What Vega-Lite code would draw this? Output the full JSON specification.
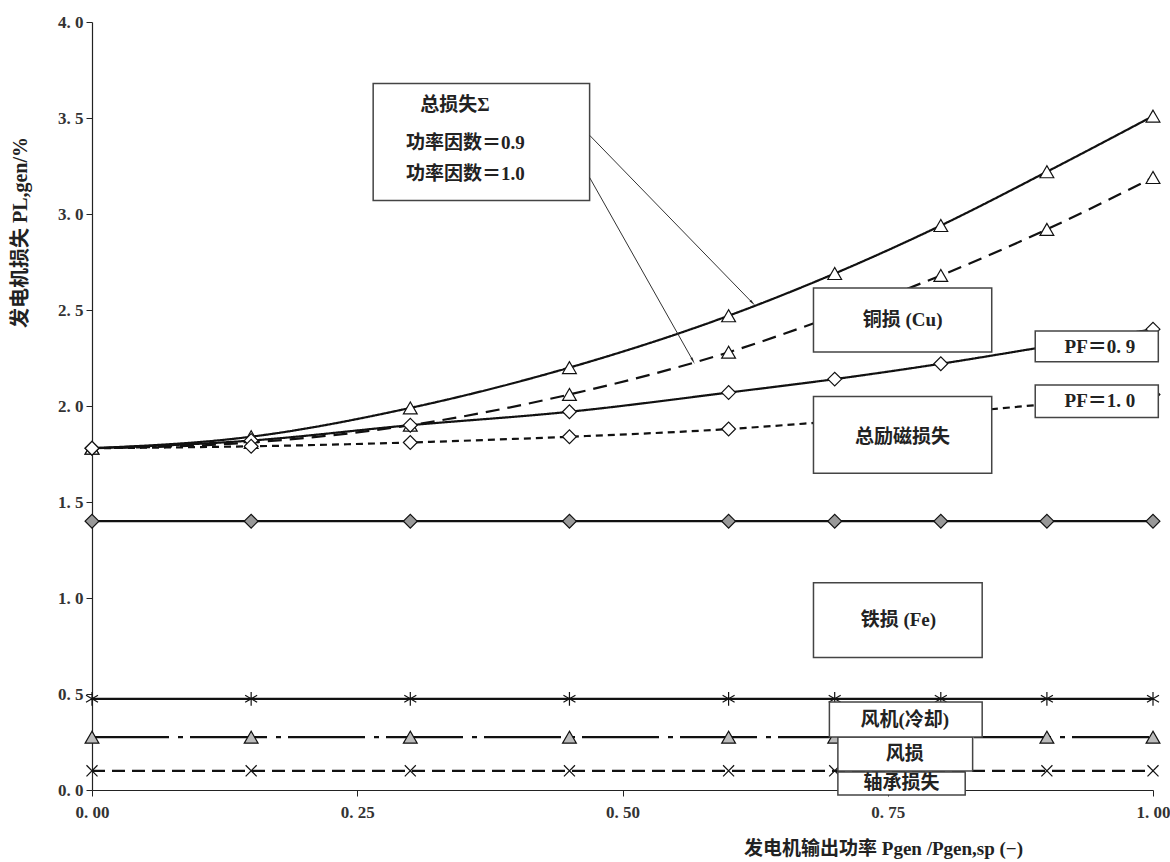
{
  "$schema": "https://vega.github.io/schema/vega-lite/v6.json",
  "width": 1061,
  "height": 768,
  "autosize": {"type": "none"},
  "padding": {"left": 92, "top": 22, "right": 17, "bottom": 72},
  "background": "white",
  "config": {"view": {"stroke": null}},
  "datasets": {
    "curves": [
      {"series": "total09", "x": 0, "y": 1.78}, {"series": "total09", "x": 0.15, "y": 1.84}, {"series": "total09", "x": 0.3, "y": 1.99}, {"series": "total09", "x": 0.45, "y": 2.2}, {"series": "total09", "x": 0.6, "y": 2.47}, {"series": "total09", "x": 0.7, "y": 2.69}, {"series": "total09", "x": 0.8, "y": 2.94}, {"series": "total09", "x": 0.9, "y": 3.22}, {"series": "total09", "x": 1.0, "y": 3.51},
      {"series": "total10", "x": 0, "y": 1.78}, {"series": "total10", "x": 0.15, "y": 1.81}, {"series": "total10", "x": 0.3, "y": 1.9}, {"series": "total10", "x": 0.45, "y": 2.06}, {"series": "total10", "x": 0.6, "y": 2.28}, {"series": "total10", "x": 0.7, "y": 2.47}, {"series": "total10", "x": 0.8, "y": 2.68}, {"series": "total10", "x": 0.9, "y": 2.92}, {"series": "total10", "x": 1.0, "y": 3.19},
      {"series": "exc09", "x": 0, "y": 1.78}, {"series": "exc09", "x": 0.15, "y": 1.82}, {"series": "exc09", "x": 0.3, "y": 1.9}, {"series": "exc09", "x": 0.45, "y": 1.97}, {"series": "exc09", "x": 0.6, "y": 2.07}, {"series": "exc09", "x": 0.7, "y": 2.14}, {"series": "exc09", "x": 0.8, "y": 2.22}, {"series": "exc09", "x": 0.9, "y": 2.31}, {"series": "exc09", "x": 1.0, "y": 2.4},
      {"series": "exc10", "x": 0, "y": 1.78}, {"series": "exc10", "x": 0.15, "y": 1.79}, {"series": "exc10", "x": 0.3, "y": 1.81}, {"series": "exc10", "x": 0.45, "y": 1.84}, {"series": "exc10", "x": 0.6, "y": 1.88}, {"series": "exc10", "x": 0.7, "y": 1.92}, {"series": "exc10", "x": 0.8, "y": 1.96}, {"series": "exc10", "x": 0.9, "y": 2.01}, {"series": "exc10", "x": 1.0, "y": 2.06},
      {"series": "fe", "x": 0, "y": 1.4}, {"series": "fe", "x": 0.15, "y": 1.4}, {"series": "fe", "x": 0.3, "y": 1.4}, {"series": "fe", "x": 0.45, "y": 1.4}, {"series": "fe", "x": 0.6, "y": 1.4}, {"series": "fe", "x": 0.7, "y": 1.4}, {"series": "fe", "x": 0.8, "y": 1.4}, {"series": "fe", "x": 0.9, "y": 1.4}, {"series": "fe", "x": 1.0, "y": 1.4},
      {"series": "fan", "x": 0, "y": 0.475}, {"series": "fan", "x": 0.15, "y": 0.475}, {"series": "fan", "x": 0.3, "y": 0.475}, {"series": "fan", "x": 0.45, "y": 0.475}, {"series": "fan", "x": 0.6, "y": 0.475}, {"series": "fan", "x": 0.7, "y": 0.475}, {"series": "fan", "x": 0.8, "y": 0.475}, {"series": "fan", "x": 0.9, "y": 0.475}, {"series": "fan", "x": 1.0, "y": 0.475},
      {"series": "wind", "x": 0, "y": 0.275}, {"series": "wind", "x": 0.15, "y": 0.275}, {"series": "wind", "x": 0.3, "y": 0.275}, {"series": "wind", "x": 0.45, "y": 0.275}, {"series": "wind", "x": 0.6, "y": 0.275}, {"series": "wind", "x": 0.7, "y": 0.275}, {"series": "wind", "x": 0.8, "y": 0.275}, {"series": "wind", "x": 0.9, "y": 0.275}, {"series": "wind", "x": 1.0, "y": 0.275},
      {"series": "bearing", "x": 0, "y": 0.1}, {"series": "bearing", "x": 0.15, "y": 0.1}, {"series": "bearing", "x": 0.3, "y": 0.1}, {"series": "bearing", "x": 0.45, "y": 0.1}, {"series": "bearing", "x": 0.6, "y": 0.1}, {"series": "bearing", "x": 0.7, "y": 0.1}, {"series": "bearing", "x": 0.8, "y": 0.1}, {"series": "bearing", "x": 0.9, "y": 0.1}, {"series": "bearing", "x": 1.0, "y": 0.1}
    ],
    "boxes": [
      {"name": "total", "x1": 0.265, "x2": 0.469, "y1": 3.68, "y2": 3.07},
      {"name": "cu", "x1": 0.68, "x2": 0.848, "y1": 2.615, "y2": 2.281},
      {"name": "pf09", "x1": 0.889, "x2": 1.005, "y1": 2.39, "y2": 2.23},
      {"name": "pf10", "x1": 0.889, "x2": 1.005, "y1": 2.11, "y2": 1.94},
      {"name": "exc", "x1": 0.68, "x2": 0.848, "y1": 2.05, "y2": 1.65},
      {"name": "fe", "x1": 0.68, "x2": 0.839, "y1": 1.08, "y2": 0.69},
      {"name": "bearing", "x1": 0.703, "x2": 0.823, "y1": 0.094, "y2": -0.026},
      {"name": "wind", "x1": 0.703, "x2": 0.83, "y1": 0.276, "y2": 0.099},
      {"name": "fan", "x1": 0.695, "x2": 0.839, "y1": 0.458, "y2": 0.276}
    ],
    "labels": [
      {"x": 0.342, "y": 3.57, "text": "总损失Σ"},
      {"x": 0.352, "y": 3.37, "text": "功率因数＝0.9"},
      {"x": 0.352, "y": 3.21, "text": "功率因数＝1.0"},
      {"x": 0.764, "y": 2.45, "text": "铜损 (Cu)"},
      {"x": 0.764, "y": 1.84, "text": "总励磁损失"},
      {"x": 0.76, "y": 0.885, "text": "铁损 (Fe)"},
      {"x": 0.766, "y": 0.365, "text": "风机(冷却)"},
      {"x": 0.766, "y": 0.187, "text": "风损"},
      {"x": 0.763, "y": 0.036, "text": "轴承损失"},
      {"x": 0.95, "y": 2.305, "text": "PF＝0. 9"},
      {"x": 0.95, "y": 2.025, "text": "PF＝1. 0"}
    ],
    "arrows": [
      {"name": "a1", "x": 0.469, "y": 3.41, "x2": 0.622, "y2": 2.54},
      {"name": "a2", "x": 0.469, "y": 3.19, "x2": 0.566, "y2": 2.24}
    ]
  },
  "layer": [
    {
      "data": {"name": "curves"},
      "mark": {"type": "line", "interpolate": "monotone", "color": "#111", "clip": false},
      "encoding": {
        "x": {
          "field": "x", "type": "quantitative",
          "scale": {"domain": [0, 1], "nice": false, "zero": false},
          "axis": {
            "values": [0, 0.25, 0.5, 0.75, 1],
            "labelExpr": "replace(format(datum.value, '.2f'), '.', '. ')",
            "title": "发电机输出功率 Pgen /Pgen,sp (−)",
            "grid": false, "domainColor": "#222", "domainWidth": 1.2, "tickColor": "#222", "tickSize": 6,
            "labelFont": "Liberation Serif", "labelFontSize": 17, "labelFontWeight": "bold", "labelColor": "#333", "labelPadding": 8, "labelDx": -4,
            "labelFlush": false, "labelOverlap": false,
            "titleFont": "'Liberation Serif', 'Noto Sans CJK SC'", "titleFontSize": 19, "titleFontWeight": "bold", "titleColor": "#222",
            "titleX": 791, "titleY": 58, "titleAlign": "center", "titleBaseline": "middle"
          }
        },
        "y": {
          "field": "y", "type": "quantitative",
          "scale": {"domain": [0, 4], "nice": false},
          "axis": {
            "values": [0, 0.5, 1, 1.5, 2, 2.5, 3, 3.5, 4],
            "labelExpr": "replace(format(datum.value, '.1f'), '.', '. ')",
            "title": "发电机损失 PL,gen/%",
            "grid": false, "domainColor": "#222", "domainWidth": 1.2, "tickColor": "#222", "tickSize": 6,
            "labelFont": "Liberation Serif", "labelFontSize": 17, "labelFontWeight": "bold", "labelColor": "#333", "labelPadding": 3,
            "labelFlush": false, "labelOverlap": false,
            "titleFont": "'Liberation Serif', 'Noto Sans CJK SC'", "titleFontSize": 20, "titleFontWeight": "bold", "titleColor": "#222",
            "titleX": -72, "titleY": 210, "titleAlign": "center", "titleBaseline": "middle", "titleAngle": -90
          }
        },
        "detail": {"field": "series"},
        "strokeDash": {
          "field": "series", "type": "nominal", "legend": null,
          "scale": {
            "domain": ["total09", "total10", "exc09", "exc10", "fe", "fan", "wind", "bearing"],
            "range": [[1, 0], [14, 8], [1, 0], [7, 5], [1, 0], [1, 0], [77, 9, 5, 7], [13, 7]]
          }
        },
        "strokeWidth": {
          "field": "series", "type": "nominal", "legend": null,
          "scale": {
            "domain": ["total09", "total10", "exc09", "exc10", "fe", "fan", "wind", "bearing"],
            "range": [2.2, 2.2, 2.2, 2.2, 1.8, 2.6, 2.2, 2]
          }
        }
      }
    },
    {
      "data": {"name": "curves"},
      "mark": {"type": "point", "filled": true, "stroke": "#111", "strokeWidth": 1.2, "opacity": 1, "clip": false},
      "encoding": {
        "x": {"field": "x", "type": "quantitative"},
        "y": {"field": "y", "type": "quantitative"},
        "shape": {
          "field": "series", "type": "nominal", "legend": null,
          "scale": {
            "domain": ["total09", "total10", "exc09", "exc10", "fe", "fan", "wind", "bearing"],
            "range": ["triangle-up", "triangle-up", "diamond", "diamond", "diamond", "M0,-1L0,1M-0.87,-0.5L0.87,0.5M-0.87,0.5L0.87,-0.5", "triangle-up", "M-0.8,-0.8L0.8,0.8M-0.8,0.8L0.8,-0.8"]
          }
        },
        "fill": {
          "field": "series", "type": "nominal", "legend": null,
          "scale": {
            "domain": ["total09", "total10", "exc09", "exc10", "fe", "fan", "wind", "bearing"],
            "range": ["white", "white", "white", "white", "#999999", "transparent", "#bbbbbb", "transparent"]
          }
        },
        "size": {
          "field": "series", "type": "nominal", "legend": null,
          "scale": {
            "domain": ["total09", "total10", "exc09", "exc10", "fe", "fan", "wind", "bearing"],
            "range": [190, 190, 160, 160, 32, 45, 45, 40]
          }
        }
      }
    },
    {
      "data": {"name": "boxes"},
      "mark": {"type": "rect", "fill": "white", "stroke": "#444", "strokeWidth": 1.5, "clip": false},
      "encoding": {
        "x": {"field": "x1", "type": "quantitative"},
        "x2": {"field": "x2"},
        "y": {"field": "y1", "type": "quantitative"},
        "y2": {"field": "y2"}
      }
    },
    {
      "data": {"name": "labels"},
      "mark": {"type": "text", "font": "'Liberation Serif', 'Noto Sans CJK SC'", "fontSize": 19, "fontWeight": "bold", "color": "#222", "align": "center", "baseline": "middle"},
      "encoding": {
        "x": {"field": "x", "type": "quantitative"},
        "y": {"field": "y", "type": "quantitative"},
        "text": {"field": "text"}
      }
    },
    {
      "data": {"name": "arrows"},
      "mark": {"type": "rule", "color": "#333", "strokeWidth": 1},
      "encoding": {
        "x": {"field": "x", "type": "quantitative"},
        "y": {"field": "y", "type": "quantitative"},
        "x2": {"field": "x2"},
        "y2": {"field": "y2"}
      }
    },
    {
      "data": {"name": "arrows"},
      "transform": [{"filter": "datum.name == 'a1'"}],
      "mark": {"type": "point", "shape": "wedge", "filled": true, "color": "#222", "size": 70, "angle": 136, "opacity": 1},
      "encoding": {
        "x": {"field": "x2", "type": "quantitative"},
        "y": {"field": "y2", "type": "quantitative"}
      }
    },
    {
      "data": {"name": "arrows"},
      "transform": [{"filter": "datum.name == 'a2'"}],
      "mark": {"type": "point", "shape": "wedge", "filled": true, "color": "#222", "size": 70, "angle": 151, "opacity": 1},
      "encoding": {
        "x": {"field": "x2", "type": "quantitative"},
        "y": {"field": "y2", "type": "quantitative"}
      }
    }
  ]
}
